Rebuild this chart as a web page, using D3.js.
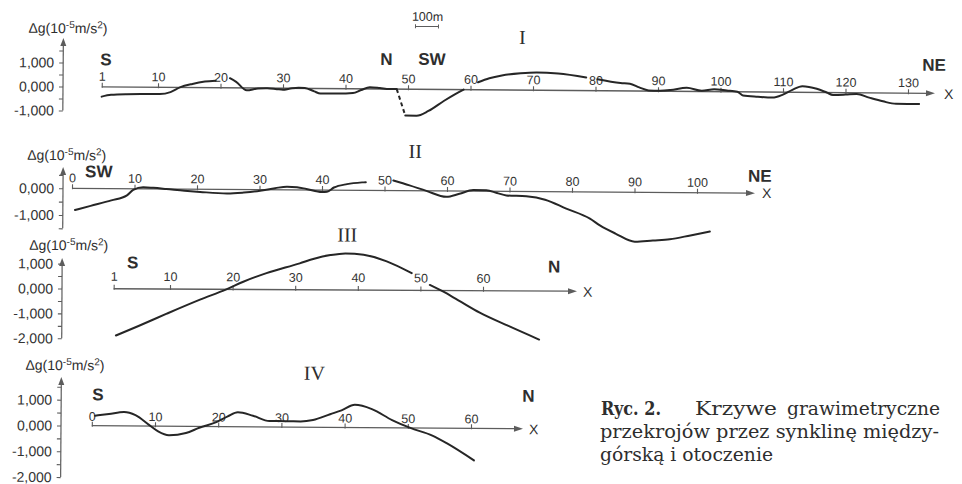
<!DOCTYPE html>
<html><head><meta charset="utf-8">
<script src="https://cdn.jsdelivr.net/npm/d3@7"></script>
<style>
body{margin:0;background:#fff}
svg{display:block}
.tick text{font-family:"Liberation Sans",Arial,sans-serif;fill:#333}
</style>
</head><body>
<svg id="c" width="962" height="484"></svg>
<script>
// ---------------- DATA (distance along profile, Δg in 10^-5 m/s²) ----------------
// Profile I (null = break in the curve)
const p1Dist = [1,2.5,5,8,10.3,12,13.5,15.5,17.5,19.2, 20.4,
  21.5,22.5,24.2,26,27.5,29,30,31,32.5,33.5,35,36,38,40,41.2,42.5,43.9,45.5,47,48.2, 48.9,
  49.6,51.4,53.3,55.8,57.5,58.9, 60,
  61.2,63,65,68,70.6,74,78.5, 79.4,
  80.3,84,85.5,87,88.5,90.3,92,94.6,97,99,101,102.7,103.6,106,108.3,110,111.5,113.1,115.4,117,118,120,121.8,123.8,126,128.1,131.8];
const p1Grav = [-0.41,-0.33,-0.30,-0.29,-0.285,-0.20,0,0.15,0.25,0.29, null,
  0.40,0.25,-0.10,-0.02,-0.01,-0.04,-0.06,-0.02,0.03,0.02,-0.12,-0.21,-0.20,-0.20,-0.18,-0.05,0.07,0.04,0,0, null,
  -1.10,-1.10,-0.90,-0.47,-0.20,0, null,
  0.31,0.48,0.60,0.70,0.74,0.70,0.55, null,
  0.48,0.33,0.30,0.15,0.03,0.02,0.05,0.15,0.03,0.10,0.05,0,-0.15,-0.20,-0.23,-0.10,0.10,0.25,0.15,0,-0.10,-0.08,-0.05,-0.20,-0.35,-0.45,-0.45];
// dashed connection in profile I
const p1DashDist = [48.2, 49.6];
const p1DashGrav = [0, -1.10];

// Profile II
const p2Dist = [0.5,3,6.3,8.8,9.8,11.4,13,15.1,18,20.5,24.8,27.5,30.1,32.5,34.4,36,37.5,40,40.8,41.9,44,46.4,47, 49,
  51.4,54,56.7,59.9,62,64.2,66.3,68,69.5,72.7,75.7,79.1,82.9,84.5,87,90.1,93,95.7,99,102.1];
const p2Grav = [-0.81,-0.65,-0.44,-0.25,-0.04,0.06,0.04,0,-0.06,-0.10,-0.15,-0.11,-0.04,0.06,0.12,0.10,0.04,-0.07,-0.06,0.10,0.23,0.30,0.31, null,
  0.38,0.20,0,-0.22,-0.10,0.04,0.04,-0.06,-0.15,-0.18,-0.30,-0.63,-1.00,-1.25,-1.55,-1.85,-1.80,-1.75,-1.60,-1.45];

// Profile III
const p3Dist = [1.4,5,9.5,14.8,19,21.6,25.4,30.7,33,35.6,38,40.9,44.6,48.6, 50, 51.5,53.6,56,59.5,64,69];
const p3Grav = [-1.875,-1.49,-0.99,-0.42,0,0.30,0.66,1.06,1.25,1.40,1.47,1.42,1.16,0.69, null, 0.22,-0.04,-0.38,-0.88,-1.40,-1.95];

// Profile IV
const p4Dist = [0.5,2.7,5.1,6.9,9.1,10.5,12.2,14.9,17,19.7,21.5,23.1,25.5,28.1,30.8,33,35,37.7,39.5,41.6,44.3,47.5,50.4,53.9,56.3,60.5];
const p4Grav = [0.39,0.46,0.54,0.42,0.04,-0.20,-0.35,-0.26,-0.05,0.17,0.40,0.56,0.43,0.23,0.23,0.22,0.28,0.51,0.66,0.88,0.72,0.30,0,-0.29,-0.60,-1.24];

// Tick values
const xTicks1 = [1,10,20,30,40,50,60,70,80,90,100,110,120,130];
const xTicks2 = [0,10,20,30,40,50,60,70,80,90,100];
const xTicks3 = [1,10,20,30,40,50,60];
const xTicks4 = [0,10,20,30,40,50,60];
const yTicks1 = [1,0,-1];
const yTicks2 = [0,-1];
const yTicks3 = [1,0,-1,-2];
const yTicks4 = [1,0,-1,-2];
const yMinor1 = [1.5,0.5,-0.5];
const yMinor2 = [0.5,-0.5,-1.5];
const yMinor3 = [0.5,-0.5,-1.5];
const yMinor4 = [1.5,0.5,-0.5,-1.5];

// Text labels
const dirLabels = [["S","N","SW","NE"],["SW","NE"],["S","N"],["S","N"]];
const romanLabels = ["I","II","III","IV"];
const scaleLabel = "100m";
const captionLines = ["Ryc. 2.", "Krzywe", "grawimetryczne", "przekrojów przez synklinę między-", "górską i otoczenie"];

// ---------------- LAYOUT ----------------
const SANS = '"Liberation Sans", Arial, sans-serif';
const SERIF = '"Liberation Serif", "Times New Roman", serif';
const CAPFONT = '"DejaVu Serif", "Liberation Serif", serif';
const CURVE = "#262626", AXIS = "#5c5c5c", TXT = "#2e2e2e";

const panels = [
  {dist:p1Dist, grav:p1Grav, xd:[10,130], xr:[158,908], y0:86.5, k:24, ax:63, xStart:1, xEnd:935, yTop:38, yBot:-1,
   xTicks:xTicks1, yMajor:yTicks1, yMinor:yMinor1, rot:0.45, lblOff:6,
   dirs:[[100,65],[380,62.5],[418,62],[922,64]], roman:[522,40.5], xLbl:[944,92], dg:[28,33]},
  {dist:p2Dist, grav:p2Grav, xd:[0,100], xr:[72,697], y0:188.3, k:26.7, ax:63, xStart:0, xEnd:755, yTop:167, yBot:-1.5,
   xTicks:xTicks2, yMajor:yTicks2, yMinor:yMinor2, rot:0.4, lblOff:6,
   dirs:[[85,177],[748,177]], roman:[415,155.5], xLbl:[762,193], dg:[27,160]},
  {dist:p3Dist, grav:p3Grav, xd:[10,60], xr:[170,483], y0:288.5, k:24.9, ax:62, xStart:1, xEnd:577, yTop:258, yBot:-2,
   xTicks:xTicks3, yMajor:yTicks3, yMinor:yMinor3, rot:0.3, lblOff:8,
   dirs:[[127,268],[548,270]], roman:[347,240], xLbl:[583,294], dg:[29,250]},
  {dist:p4Dist, grav:p4Grav, xd:[10,60], xr:[155,471], y0:425.5, k:25.8, ax:61, xStart:0, xEnd:523, yTop:377, yBot:-2,
   xTicks:xTicks4, yMajor:yTicks4, yMinor:yMinor4, rot:0.4, lblOff:5,
   dirs:[[92,400],[522,398.5]], roman:[314,378], xLbl:[529,431], dg:[25,370]}
];

const svg = d3.select("#c");
const fmt = v => d3.format(".3f")(v).replace(".", ",").replace("\u2212", "-");

panels.forEach((p, i) => {
  const x = d3.scaleLinear().domain(p.xd).range(p.xr);
  const y = d3.scaleLinear().domain([0, 1]).range([p.y0, p.y0 - p.k]);
  const g = svg.append("g").attr("transform", `rotate(${p.rot},${p.ax},${p.y0})`);

  // y axis (major + minor ticks)
  const yMaj = g.append("g").attr("transform", `translate(${p.ax},0)`)
    .call(d3.axisLeft(y).tickValues(p.yMajor).tickFormat(fmt).tickSizeInner(4).tickSizeOuter(0).tickPadding(5));
  yMaj.select(".domain").remove();
  yMaj.selectAll(".tick line").attr("stroke", AXIS).attr("stroke-width", 1.1);
  yMaj.selectAll(".tick text").attr("font-size", 14).attr("font-family", SANS).attr("fill", TXT);
  const yMin = g.append("g").attr("transform", `translate(${p.ax},0)`)
    .call(d3.axisLeft(y).tickValues(p.yMinor).tickFormat("").tickSizeInner(4).tickSizeOuter(0));
  yMin.select(".domain").remove();
  yMin.selectAll(".tick line").attr("stroke", AXIS).attr("stroke-width", 1.1);
  g.append("line").attr("x1", p.ax).attr("x2", p.ax).attr("y1", p.yTop + 5).attr("y2", y(p.yBot))
    .attr("stroke", AXIS).attr("stroke-width", 1.2);
  g.append("path").attr("d", `M${p.ax},${p.yTop}L${p.ax - 3},${p.yTop + 8}L${p.ax + 3},${p.yTop + 8}Z`).attr("fill", AXIS);

  // x axis
  const xa = g.append("g").attr("transform", `translate(0,${p.y0})`)
    .call(d3.axisTop(x).tickValues(p.xTicks).tickFormat(d3.format("d")).tickSizeInner(4).tickSizeOuter(0).tickPadding(p.lblOff - 4));
  xa.select(".domain").remove();
  xa.selectAll(".tick line").attr("stroke", AXIS).attr("stroke-width", 1.1).attr("y1", 1);
  xa.selectAll(".tick text").attr("font-size", 12.5).attr("font-family", SANS).attr("fill", TXT);
  const xs = x(p.xStart);
  g.append("line").attr("x1", xs).attr("x2", p.xEnd - 6).attr("y1", p.y0).attr("y2", p.y0)
    .attr("stroke", AXIS).attr("stroke-width", 1.3);
  g.append("path").attr("d", `M${p.xEnd},${p.y0}L${p.xEnd - 9},${p.y0 - 3}L${p.xEnd - 9},${p.y0 + 3}Z`).attr("fill", AXIS);
  g.append("text").attr("x", p.xLbl[0]).attr("y", p.xLbl[1]).text("X")
    .attr("font-family", SANS).attr("font-size", 14).attr("fill", TXT);

  // y axis title
  const t = g.append("text").attr("x", p.dg[0]).attr("y", p.dg[1])
    .attr("font-family", SANS).attr("font-size", 14).attr("fill", TXT);
  t.append("tspan").text("\u0394g(10");
  t.append("tspan").text("-5").attr("font-size", 10).attr("dy", -5);
  t.append("tspan").text("m/s").attr("dy", 5);
  t.append("tspan").text("2").attr("font-size", 10).attr("dy", -5);
  t.append("tspan").text(")").attr("dy", 5);

  // direction labels
  dirLabels[i].forEach((d, j) => {
    g.append("text").attr("x", p.dirs[j][0]).attr("y", p.dirs[j][1]).text(d)
      .attr("font-family", SANS).attr("font-weight", "bold").attr("font-size", 17).attr("fill", TXT);
  });
  // roman numeral
  g.append("text").attr("x", p.roman[0]).attr("y", p.roman[1]).text(romanLabels[i])
    .attr("text-anchor", "middle").attr("font-family", SERIF).attr("font-size", 20).attr("fill", TXT);

  // curve
  const pts = p.dist.map((d, k) => [d, p.grav[k]]);
  const line = d3.line().defined(d => d[1] !== null).x(d => x(d[0])).y(d => y(d[1])).curve(d3.curveMonotoneX);
  g.append("path").attr("d", line(pts)).attr("fill", "none").attr("stroke", CURVE)
    .attr("stroke-width", 2).attr("stroke-linejoin", "round").attr("stroke-linecap", "round");

  if (i === 0) {
    const dpts = p1DashDist.map((d, k) => [d, p1DashGrav[k]]);
    g.append("path").attr("d", d3.line().x(d => x(d[0])).y(d => y(d[1]))(dpts))
      .attr("fill", "none").attr("stroke", CURVE).attr("stroke-width", 2).attr("stroke-dasharray", "4,3");
    // scale bar 100 m
    g.append("text").attr("x", 427).attr("y", 18).text(scaleLabel).attr("text-anchor", "middle")
      .attr("font-family", SANS).attr("font-size", 12.5).attr("fill", TXT);
    g.append("path").attr("d", "M415,21.5V25.5M415,23.5H438M438,21.5V25.5")
      .attr("stroke", AXIS).attr("stroke-width", 1).attr("fill", "none");
  }
});

// caption
const cap = svg.append("g").attr("font-family", CAPFONT).attr("font-size", 18.5).attr("fill", TXT);
cap.append("text").attr("x", 601).attr("y", 415).attr("font-weight", "bold").text(captionLines[0])
  .attr("textLength", 60).attr("lengthAdjust", "spacingAndGlyphs");
cap.append("text").attr("x", 695).attr("y", 415).text(captionLines[1])
  .attr("textLength", 82).attr("lengthAdjust", "spacingAndGlyphs");
cap.append("text").attr("x", 787).attr("y", 415).text(captionLines[2])
  .attr("textLength", 153).attr("lengthAdjust", "spacingAndGlyphs");
cap.append("text").attr("x", 600).attr("y", 438).text(captionLines[3])
  .attr("textLength", 339).attr("lengthAdjust", "spacingAndGlyphs");
cap.append("text").attr("x", 600).attr("y", 461).text(captionLines[4])
  .attr("textLength", 173).attr("lengthAdjust", "spacingAndGlyphs");
</script>
</body></html>
